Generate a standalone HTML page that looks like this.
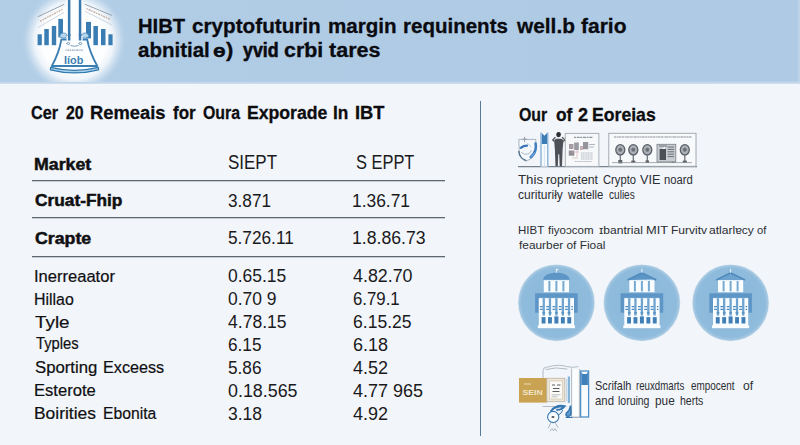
<!DOCTYPE html>
<html lang="en">
<head>
<meta charset="utf-8">
<title>HIBT crypto futures margin requirements</title>
<style>
*{box-sizing:border-box;margin:0;padding:0}
html,body{width:800px;height:445px;overflow:hidden}
body{position:relative;background:#f2f5f9;font-family:"Liberation Sans",Arial,sans-serif;color:#111}
.t{position:absolute;white-space:pre;line-height:1;transform-origin:0 50%;display:block}
#hdr{position:absolute;left:0;top:0;width:800px;height:82px;background:linear-gradient(90deg,#b2cee6 0%,#b0cce5 40%,#aecae4 100%)}
#hdrline{position:absolute;left:0;top:81px;width:800px;height:2.5px;background:linear-gradient(180deg,#b2cce5,#d3e2ef)}
.hl{position:absolute;height:2px;background:linear-gradient(180deg,#5f686f 0,#5f686f 50%,#c5ccd2 50%,#c5ccd2 100%)}
.b{-webkit-text-stroke:0.3px currentColor}
.vl{position:absolute;background:#5e86aa}
svg{position:absolute;left:0;top:0;overflow:visible}
</style>
</head>
<body>
<div id="hdr"></div>
<div id="hdrline"></div>
<div style="position:absolute;left:798px;top:0;width:2px;height:82px;background:#bdd3e7"></div>
<div class="hl" style="left:31.5px;top:180px;width:413px"></div>
<div class="hl" style="left:31.5px;top:217px;width:413px"></div>
<div class="hl" style="left:31.5px;top:256px;width:413px"></div>
<div class="vl" style="left:480px;top:100.5px;width:1.3px;height:335px;background:#577a9c"></div>

<!-- logo -->
<svg width="800" height="445" viewBox="0 0 800 445">
<defs>
<radialGradient id="glow" cx="50%" cy="50%" r="50%">
<stop offset="0" stop-color="#ffffff"/><stop offset="0.62" stop-color="#fdfeff"/><stop offset="0.76" stop-color="#f1f6fb" stop-opacity="0.95"/><stop offset="0.88" stop-color="#d8e6f3" stop-opacity="0.6"/><stop offset="1" stop-color="#b9d1e8" stop-opacity="0"/>
</radialGradient>
<clipPath id="hc"><rect x="0" y="0" width="800" height="82"/></clipPath>
</defs>
<g clip-path="url(#hc)">
<circle cx="74" cy="40.5" r="52" fill="url(#glow)"/>
<!-- roof lines -->
<g stroke="#8f99a4" stroke-width="0.9" fill="none">
<path d="M64.2 4.3 L38 16.7"/><path d="M85 4.3 L112 15.4"/>
</g>
<g stroke="#c3ccd6" stroke-width="0.8" fill="none">
<path d="M64 12.4 L38 27.5"/><path d="M85 11.2 L112 25"/>
</g>
<g stroke="#c9b3a6" stroke-width="1.5" fill="none" stroke-dasharray="1.4 0.9 2.2 0.8">
<path d="M62.5 9.3 L40 21.3"/><path d="M86.5 8.6 L110.5 19.5"/>
</g>
<!-- bars -->
<g fill="#397db3">
<rect x="37.6" y="34.3" width="4.2" height="10.9"/><rect x="44.3" y="29" width="4.5" height="16.2"/><rect x="51.8" y="26" width="4.4" height="19.2"/><rect x="58.3" y="18.9" width="4.7" height="18.5"/>
<rect x="86" y="21.9" width="5" height="16.5"/><rect x="93.4" y="26" width="4.5" height="19.2"/><rect x="101" y="29" width="4.5" height="16.2"/><rect x="108.4" y="34.3" width="4.2" height="10.9"/>
</g>
<!-- pillars -->
<rect x="66.6" y="-2" width="16" height="40" fill="#fdfeff"/>
<g fill="#3978ad">
<rect x="67.9" y="-2" width="2.5" height="40"/><rect x="78.8" y="-2" width="2.5" height="40"/>
</g>
<!-- curls beside flask top -->
<g fill="#b7d6ec" stroke="#4f90c2" stroke-width="0.8">
<path d="M59.5 36.5 q1.5 -4.5 6 -3.2 q2.8 1.4 0.6 4.4 q-3.2 1.4 -6.6 -1.2z"/>
<path d="M89 36.5 q-1.5 -4.5 -6 -3.2 q-2.8 1.4 -0.6 4.4 q3.2 1.4 6.6 -1.2z"/>
</g>
<!-- flask -->
<path d="M61.3 39.5 L87.2 39.5 Q89.5 52 97.3 66 L51.8 66 Q59.5 52 61.3 39.5 Z" fill="#fdfeff" stroke="#3b7fb2" stroke-width="1.8" stroke-linejoin="round"/>
<rect x="66.6" y="36" width="16" height="5" fill="#fdfeff"/>
<g fill="#3978ad"><rect x="67.9" y="34" width="2.5" height="6.5"/><rect x="78.8" y="34" width="2.5" height="6.5"/></g>
<path d="M50.6 67.4 Q74.5 73.3 98.4 67.4 L98.6 69.8 Q74.5 76 50.4 69.8 Z" fill="#a8d0ea" stroke="#2f78ae" stroke-width="1.2" stroke-linejoin="round"/>
<!-- scribbles -->
<g stroke="#6c93b5" stroke-width="0.9" fill="none">
<path d="M66.5 43.5 q1.8 -2.2 3.6 0 q-1.8 2.2 -3.6 0 M78.5 43.5 q1.8 -2.2 3.6 0 q-1.8 2.2 -3.6 0 M70.5 45.5 q4 1.6 8 0"/>
</g>
<path d="M65.5 50.2 h17.8" stroke="#8fa5ba" stroke-width="1.3" stroke-dasharray="1.1 0.7 2 0.6"/>
<text x="64" y="63.6" font-family="Liberation Sans, Arial, sans-serif" font-weight="bold" font-size="11" fill="#3b7fb2" textLength="19.3" lengthAdjust="spacingAndGlyphs">Iíob</text>
</g>
</svg>

<!-- top icon row -->
<svg width="800" height="445" viewBox="0 0 800 445">
<!-- baseline -->
<path d="M518 166.6 H697" stroke="#76848f" stroke-width="1.1"/>
<!-- shield / swirl icon -->
<g fill="none" stroke-linecap="round">
<path d="M519.2 139.4 h16.6 v10.5 q-0.4 8.2 -10 11.3 q-7 -2.6 -6.6 -11.3z" fill="#f5f8fb" stroke="#a3afba" stroke-width="0.9"/>
<path d="M524.6 137.2 v4.6 M522.8 139.2 h4" stroke="#8f9aa5" stroke-width="0.9"/>
<path d="M520.8 147.8 q2.6 -2.2 6.2 -2.2" stroke="#3c78b8" stroke-width="2.4"/>
<path d="M535.6 143.5 q1.6 8 -4.8 13.6" stroke="#3f7fc2" stroke-width="2.6"/>
<path d="M531 156 q2.4 -0.4 3.6 -3" stroke="#6aa0d8" stroke-width="1.6"/>
<path d="M518.8 151.5 q0.6 6.6 7 8.8" stroke="#4f6f8a" stroke-width="1.3"/>
<path d="M521.6 152.6 q2.6 2.6 6.4 1.4 q2.6 -1.2 3.4 -3.6" stroke="#9db1c4" stroke-width="0.9"/>
<path d="M527.5 143.6 q2.6 1 3.6 3.6" stroke="#c3d3e2" stroke-width="1"/>
</g>
<!-- blue pillar -->
<g>
<rect x="540.6" y="132.6" width="7.6" height="34" fill="#f7fafd"/>
<path d="M541 132.4 v34 M547.8 132.4 v34" stroke="#6fa0cc" stroke-width="1.1"/>
<path d="M541.8 133 l2.6 2.8 l2.6 -2.8 v11 h-5.2z" fill="#3d7bb4"/>
<path d="M544.4 145 v21" stroke="#d4e3f0" stroke-width="1"/>
</g>
<!-- person -->
<g fill="#4d5056">
<ellipse cx="558.6" cy="134.6" rx="2.3" ry="2.6" fill="#2b2e33"/>
<path d="M554.2 141.3 q0.2 -2.2 2.2 -2.5 h4.6 q2.2 0.3 2.4 2.5 l-0.8 8.2 l-0.6 16.7 h-2.3 l-0.5 -12 h-0.9 l-0.5 12 h-2.3 l-0.6 -16.7z"/>
<path d="M554.4 141.5 l-1.6 -1.6 l2.6 -2.6 M563.2 141.5 l1.6 -1.6 l-2.6 -2.6" stroke="#4d5056" stroke-width="1.3" fill="none"/>
</g>
<!-- board 1 -->
<rect x="565.3" y="133.4" width="33.6" height="33" fill="#f6f8fa" stroke="#a3abb3" stroke-width="0.9"/>
<path d="M574 137.3 h19" stroke="#8e969e" stroke-width="1.2" stroke-dasharray="2 0.7 3 0.6"/>
<g fill="#8b7f86" opacity="0.75">
<rect x="569" y="144" width="4.5" height="5" /><rect x="574.2" y="142.5" width="4.6" height="7.5" fill="#7a7a84"/><rect x="583" y="142" width="5.2" height="7.2" fill="#75737b"/>
<rect x="568.8" y="150.5" width="5.5" height="5.2" fill="#6f6a72"/><rect x="580" y="146" width="3" height="4" fill="#b69aa0"/>
</g>
<g stroke="#9aa0aa" stroke-width="0.9" opacity="0.8">
<path d="M581 153 h12 M581 155 h12 M581 157 h12 M581 159 h12 M575 161.5 h17" stroke-dasharray="1.2 0.5"/>
<path d="M589 144.5 h6 M589 147 h5" />
</g>
<g stroke="#d8a9b0" stroke-width="0.8" opacity="0.8"><path d="M571 152 h8 M577 150 v7 M572 158 h6"/></g>
<!-- board 2 -->
<rect x="608.8" y="133.3" width="87.2" height="33" fill="#f7f9fb" stroke="#9aa2aa" stroke-width="0.9"/>
<path d="M614 137 h78" stroke="#8b9299" stroke-width="1.1" stroke-dasharray="2.2 0.5 1.2 0.4 3 0.5"/>
<g fill="#adb1b7" stroke="#5a6067" stroke-width="1.3">
<ellipse cx="620.3" cy="149.8" rx="4.5" ry="5.2"/><ellipse cx="633.3" cy="149.8" rx="4.5" ry="5.2"/><ellipse cx="647.3" cy="149.8" rx="4.5" ry="5.2"/><ellipse cx="684.8" cy="149.8" rx="4.5" ry="5.2"/>
</g>
<g fill="#6c7178">
<circle cx="620.3" cy="149.8" r="2"/><circle cx="633.3" cy="149.8" r="2"/><circle cx="647.3" cy="149.8" r="2"/><circle cx="684.8" cy="149.8" r="2"/>
</g>
<g stroke="#6f757c" stroke-width="1.3">
<path d="M620.3 155 v7 M633.3 155 v7 M647.3 155 v7 M684.8 155 v7"/>
</g>
<g fill="#5d6269"><rect x="618.3" y="160" width="4" height="3.4"/><rect x="631.3" y="160.6" width="4" height="2.2"/><rect x="645.6" y="160.4" width="3.4" height="2.6"/><rect x="682.8" y="160.6" width="4" height="2.4"/><rect x="671.5" y="160" width="3" height="3"/></g>
<path d="M612 162.6 h80" stroke="#8e959c" stroke-width="0.8"/>
<rect x="657" y="144.3" width="18.8" height="17.6" fill="#c9cdd2" stroke="#7a8087" stroke-width="0.8"/>
<rect x="659.6" y="149" width="6.4" height="11" fill="#4b5057"/>
<path d="M662 149 l3 -3 v3z" fill="#eef1f4"/>
<g stroke="#6a7077" stroke-width="1"><path d="M667.6 147 h6.5 M667.6 149.4 h6.5 M667.6 151.8 h6.5 M667.6 154.2 h6.5 M667.6 156.6 h6.5 M659 146 h8"/></g>
</svg>

<!-- three circles -->
<svg width="800" height="445" viewBox="0 0 800 445">
<defs>
<radialGradient id="cg" cx="50%" cy="50%" r="50%"><stop offset="0" stop-color="#8ab6d9"/><stop offset="0.9" stop-color="#8fbbdc"/><stop offset="0.97" stop-color="#a5c8e2"/><stop offset="1" stop-color="#c6dcec"/></radialGradient>
</defs>
<circle cx="556.4" cy="302.8" r="38.4" fill="url(#cg)"/>
<circle cx="641.9" cy="302.8" r="38.4" fill="url(#cg)"/>
<circle cx="730.6" cy="302.8" r="38.4" fill="url(#cg)"/>
<!-- building 1 with dome -->
<g transform="translate(556.4,302.8)">
<path d="M-13.4 -23 q0.6 -6.3 13.4 -7.2 q12.8 0.9 13.4 7.2z" fill="#5d96c6"/>
<path d="M0 -30 v-3.8 l2.2 0.8" stroke="#f4f9fd" stroke-width="0.9" fill="none"/>
<g>
<!-- coordinates relative to circle centre -->
<rect x="-12.6" y="-22.6" width="25.2" height="12" fill="#fafdff"/>
<g fill="#77aad3"><rect x="-8" y="-21.8" width="2" height="10.4"/><rect x="-1" y="-21.8" width="2" height="10.4"/><rect x="6" y="-21.8" width="2" height="10.4"/></g>
<path d="M-21.3 -9.6 h42.6 v19.6 h-3.7 v-15 h-35.2 v15 h-3.7z" fill="#5d96c6"/>
<rect x="-17.6" y="-4.6" width="35.2" height="29.8" fill="#fafdff"/>
<g fill="#6ea2cf">
<rect x="-13.8" y="-4.6" width="2.3" height="17.4"/><rect x="-7.6" y="-4.6" width="2.3" height="17.4"/><rect x="-1.15" y="-4.6" width="2.3" height="17.4"/><rect x="5.3" y="-4.6" width="2.3" height="17.4"/><rect x="11.5" y="-4.6" width="2.3" height="17.4"/>
</g>
<g stroke="#4f8abd" stroke-width="1.3" stroke-dasharray="2.8 3.5"><path d="M-16.5 3.8 h33 M-16.5 6.6 h33 M-14 10 h30"/></g>
<g stroke="#ffffff" stroke-width="1.1" stroke-dasharray="1.6 4.7" opacity="0.9"><path d="M-15.5 0 h32"/></g>
<g fill="#3f7fb6">
<rect x="-14.8" y="14.3" width="3.9" height="6.4"/><rect x="-8.4" y="14.3" width="3.9" height="6.4"/><rect x="-2" y="13.6" width="4" height="7.1"/><rect x="4.5" y="14.3" width="3.9" height="6.4"/><rect x="10.9" y="14.3" width="3.9" height="6.4"/>
</g>
<rect x="-18.6" y="22.6" width="37.2" height="2.8" fill="#fafdff"/>
</g>
</g>
<g transform="translate(641.9,302.8)">
<path d="M-14 -22.6 L0 -29.6 L14 -22.6 v-1.6z" fill="#5d96c6"/>
<path d="M-14.4 -22.8 L0 -30 L14.4 -22.8" stroke="#4f8abd" stroke-width="1.5" fill="none"/>
<path d="M0 -30 v-4" stroke="#f4f9fd" stroke-width="0.9"/>
<g>
<!-- coordinates relative to circle centre -->
<rect x="-12.6" y="-22.6" width="25.2" height="12" fill="#fafdff"/>
<g fill="#77aad3"><rect x="-8" y="-21.8" width="2" height="10.4"/><rect x="-1" y="-21.8" width="2" height="10.4"/><rect x="6" y="-21.8" width="2" height="10.4"/></g>
<path d="M-21.3 -9.6 h42.6 v19.6 h-3.7 v-15 h-35.2 v15 h-3.7z" fill="#5d96c6"/>
<rect x="-17.6" y="-4.6" width="35.2" height="29.8" fill="#fafdff"/>
<g fill="#6ea2cf">
<rect x="-13.8" y="-4.6" width="2.3" height="17.4"/><rect x="-7.6" y="-4.6" width="2.3" height="17.4"/><rect x="-1.15" y="-4.6" width="2.3" height="17.4"/><rect x="5.3" y="-4.6" width="2.3" height="17.4"/><rect x="11.5" y="-4.6" width="2.3" height="17.4"/>
</g>
<g stroke="#4f8abd" stroke-width="1.3" stroke-dasharray="2.8 3.5"><path d="M-16.5 3.8 h33 M-16.5 6.6 h33 M-14 10 h30"/></g>
<g stroke="#ffffff" stroke-width="1.1" stroke-dasharray="1.6 4.7" opacity="0.9"><path d="M-15.5 0 h32"/></g>
<g fill="#3f7fb6">
<rect x="-14.8" y="14.3" width="3.9" height="6.4"/><rect x="-8.4" y="14.3" width="3.9" height="6.4"/><rect x="-2" y="13.6" width="4" height="7.1"/><rect x="4.5" y="14.3" width="3.9" height="6.4"/><rect x="10.9" y="14.3" width="3.9" height="6.4"/>
</g>
<rect x="-18.6" y="22.6" width="37.2" height="2.8" fill="#fafdff"/>
</g>
</g>
<g transform="translate(730.6,302.8)">
<path d="M-14.4 -22.8 L0 -30 L14.4 -22.8" stroke="#4f8abd" stroke-width="1.5" fill="#6ea2cf"/>
<path d="M0 -30 v-4" stroke="#f4f9fd" stroke-width="0.9"/>
<g>
<!-- coordinates relative to circle centre -->
<rect x="-12.6" y="-22.6" width="25.2" height="12" fill="#fafdff"/>
<g fill="#77aad3"><rect x="-8" y="-21.8" width="2" height="10.4"/><rect x="-1" y="-21.8" width="2" height="10.4"/><rect x="6" y="-21.8" width="2" height="10.4"/></g>
<path d="M-21.3 -9.6 h42.6 v19.6 h-3.7 v-15 h-35.2 v15 h-3.7z" fill="#5d96c6"/>
<rect x="-17.6" y="-4.6" width="35.2" height="29.8" fill="#fafdff"/>
<g fill="#6ea2cf">
<rect x="-13.8" y="-4.6" width="2.3" height="17.4"/><rect x="-7.6" y="-4.6" width="2.3" height="17.4"/><rect x="-1.15" y="-4.6" width="2.3" height="17.4"/><rect x="5.3" y="-4.6" width="2.3" height="17.4"/><rect x="11.5" y="-4.6" width="2.3" height="17.4"/>
</g>
<g stroke="#4f8abd" stroke-width="1.3" stroke-dasharray="2.8 3.5"><path d="M-16.5 3.8 h33 M-16.5 6.6 h33 M-14 10 h30"/></g>
<g stroke="#ffffff" stroke-width="1.1" stroke-dasharray="1.6 4.7" opacity="0.9"><path d="M-15.5 0 h32"/></g>
<g fill="#3f7fb6">
<rect x="-14.8" y="14.3" width="3.9" height="6.4"/><rect x="-8.4" y="14.3" width="3.9" height="6.4"/><rect x="-2" y="13.6" width="4" height="7.1"/><rect x="4.5" y="14.3" width="3.9" height="6.4"/><rect x="10.9" y="14.3" width="3.9" height="6.4"/>
</g>
<rect x="-18.6" y="22.6" width="37.2" height="2.8" fill="#fafdff"/>
</g>
</g>
</svg>

<!-- bottom icon -->
<svg width="800" height="445" viewBox="0 0 800 445">
<!-- sketch outline -->
<g fill="none" stroke="#aab4be" stroke-width="0.9" stroke-linecap="round">
<path d="M543 378 v-7.5 q0 -3 3.5 -3.2 q12 -3.6 20 -0.8 q6 1.6 11.5 0.2"/>
<path d="M546 369.5 q10 -3 21 -0.5"/>
<path d="M543 406.5 h23"/>
<path d="M571.6 369 v48 h7.8 v-47.5" fill="#fbfdff"/>
<path d="M571 417.5 h9"/>
</g>
<!-- gold card -->
<rect x="519" y="378" width="28" height="24.6" fill="#c9a352"/>
<path d="M524 384 h7" stroke="#efe2c2" stroke-width="0.9"/>
<text x="522.6" y="394.5" font-family="Liberation Sans, Arial, sans-serif" font-weight="bold" font-size="7" fill="#efe4c8" textLength="20" lengthAdjust="spacingAndGlyphs">SEIN</text>
<!-- document -->
<rect x="546.8" y="378.3" width="18" height="23.4" fill="#efe6d4" stroke="#b9b2a6" stroke-width="0.8"/>
<rect x="549.3" y="381" width="13" height="18" fill="#fbfaf6" stroke="#c8c0b2" stroke-width="0.6"/>
<g stroke="#5a5d63" stroke-width="1"><path d="M552 385 h3 M557 385 h3.5 M553 388.5 h6.5 M552.5 391.5 h7"/></g>
<path d="M551.5 394.8 h9 M551.5 396.8 h6" stroke="#a0a4aa" stroke-width="0.7"/>
<!-- blue verticals -->
<path d="M568.9 376.5 v26.5" stroke="#86b3d8" stroke-width="2.2"/>
<path d="M566.6 379 v22" stroke="#a9c9e3" stroke-width="0.8"/>
<!-- tall thermometer bar -->
<rect x="580.6" y="371" width="8" height="46" fill="#f9fcfe" stroke="#4f8fc6" stroke-width="1.3"/>
<path d="M581.3 371.5 l1.3 2.5 h4 l1.3 -2.5 v13.5 h-6.6z" fill="#3f80bb"/>
<!-- blue swirls -->
<g fill="none" stroke="#3576b0" stroke-linecap="round">
<path d="M551 411 q5 -6.5 13.5 -4.8 q-2.5 3.8 -7.5 3.6" stroke-width="2"/>
<path d="M553 409 q6 -3 10 -1.5" stroke-width="1.2"/>
<path d="M570.6 405.5 q-0.8 5 -4.2 7.6 q-1.4 3 1.8 3.4 q3.2 -0.6 2.8 -4.6z" stroke-width="1.5" fill="#5f9bd0"/>
<circle cx="553.2" cy="417" r="5.6" stroke-width="1.1" fill="#fbfdff"/>
<path d="M558.6 415 q3 -1.5 4 -4.5" stroke-width="1"/>
<path d="M566 417.5 h6" stroke-width="1"/>
</g>
<ellipse cx="553" cy="417" rx="1.6" ry="1.1" fill="#51565c"/>
<g fill="none" stroke="#9aa5b0" stroke-width="0.8" stroke-linecap="round"><path d="M551 422.5 l-2.6 5.5 M555 422.5 l3 5 M550 431 l2 -2.5 l1.5 2.2 l1.5 -2.2 l1.6 2.5"/></g>
</svg>

<!-- text -->
<span class="t b" style="left:137.99px;top:15.70px;font-size:20px;font-weight:bold;color:#0a0b10;transform:scaleX(1.0122);">HIBT</span>
<span class="t b" style="left:192.00px;top:15.70px;font-size:20px;font-weight:bold;color:#0a0b10;transform:scaleX(1.0348);">cryptofuturin</span>
<span class="t b" style="left:327.50px;top:16.45px;font-size:20.5px;font-weight:bold;color:#0a0b10;transform:scaleX(1.0041);">margin</span>
<span class="t b" style="left:403.00px;top:16.45px;font-size:20.5px;font-weight:bold;color:#0a0b10;transform:scaleX(1.0011);">requinents</span>
<span class="t b" style="left:517.02px;top:16.45px;font-size:20.5px;font-weight:bold;color:#0a0b10;transform:scaleX(1.0168);">well.b</span>
<span class="t b" style="left:580.60px;top:16.45px;font-size:20.5px;font-weight:bold;color:#0a0b10;transform:scaleX(1.0250);">fario</span>
<span class="t b" style="left:137.75px;top:40.20px;font-size:20px;font-weight:bold;color:#0a0b10;transform:scaleX(1.0259);">abnitial</span>
<span class="t b" style="left:212.60px;top:42.20px;font-size:18px;font-weight:bold;color:#0a0b10;transform:scaleX(1.1545);">ө</span>
<span class="t b" style="left:226.00px;top:40.20px;font-size:20px;font-weight:bold;color:#0a0b10;transform:scaleX(1.1000);">)</span>
<span class="t b" style="left:243.00px;top:40.20px;font-size:20px;font-weight:bold;color:#0a0b10;transform:scaleX(0.8891);-webkit-text-stroke:0.6px currentColor;">yvid</span>
<span class="t b" style="left:284.00px;top:40.20px;font-size:20px;font-weight:bold;color:#0a0b10;transform:scaleX(1.0686);">crƅi</span>
<span class="t b" style="left:329.30px;top:40.20px;font-size:20px;font-weight:bold;color:#0a0b10;transform:scaleX(1.0778);">tares</span>
<span class="t b" style="left:30.50px;top:104.35px;font-size:18.3px;font-weight:bold;color:#0d0d10;transform:scaleX(0.8891);">Cer</span>
<span class="t b" style="left:66.25px;top:104.35px;font-size:18.3px;font-weight:bold;color:#0d0d10;transform:scaleX(0.8677);">20</span>
<span class="t b" style="left:89.75px;top:104.35px;font-size:18.3px;font-weight:bold;color:#0d0d10;transform:scaleX(1.0029);">Remeais</span>
<span class="t b" style="left:172.50px;top:104.35px;font-size:18.3px;font-weight:bold;color:#0d0d10;transform:scaleX(0.9277);">for</span>
<span class="t b" style="left:203.00px;top:104.35px;font-size:18.3px;font-weight:bold;color:#0d0d10;transform:scaleX(0.8678);">Oura</span>
<span class="t b" style="left:246.54px;top:104.35px;font-size:18.3px;font-weight:bold;color:#0d0d10;transform:scaleX(0.9648);">Exporade</span>
<span class="t b" style="left:332.80px;top:104.35px;font-size:18.3px;font-weight:bold;color:#0d0d10;transform:scaleX(0.9450);">In</span>
<span class="t b" style="left:355.25px;top:104.35px;font-size:18.3px;font-weight:bold;color:#0d0d10;transform:scaleX(0.9989);">IBT</span>
<span class="t b" style="left:518.75px;top:104.60px;font-size:19px;font-weight:bold;color:#0d0d10;transform:scaleX(0.8361);">Our</span>
<span class="t b" style="left:555.50px;top:104.60px;font-size:19px;font-weight:bold;color:#0d0d10;transform:scaleX(0.9137);">of</span>
<span class="t b" style="left:578.00px;top:104.60px;font-size:19px;font-weight:bold;color:#0d0d10;transform:scaleX(0.9500);">2</span>
<span class="t b" style="left:592.32px;top:104.60px;font-size:19px;font-weight:bold;color:#0d0d10;transform:scaleX(0.9279);">Eoreias</span>
<span class="t b" style="left:33.74px;top:156.50px;font-size:16.8px;font-weight:bold;color:#101012;transform:scaleX(1.0578);-webkit-text-stroke:0.5px currentColor;">Market</span>
<span class="t b" style="left:34.80px;top:193.30px;font-size:16.8px;font-weight:bold;color:#101012;transform:scaleX(1.0299);-webkit-text-stroke:0.5px currentColor;">Cruat-Fhip</span>
<span class="t b" style="left:34.80px;top:230.70px;font-size:16.8px;font-weight:bold;color:#101012;transform:scaleX(1.0564);-webkit-text-stroke:0.5px currentColor;">Crapte</span>
<span class="t" style="left:228.10px;top:152.95px;font-size:19.5px;color:#1a1a1c;transform:scaleX(0.8700);">SIEPT</span>
<span class="t" style="left:356.25px;top:152.95px;font-size:19.5px;color:#1a1a1c;transform:scaleX(0.8417);">S EPPT</span>
<span class="t" style="left:228.00px;top:191.60px;font-size:18px;color:#1a1a1c;transform:scaleX(0.9549);">3.871</span>
<span class="t" style="left:352.03px;top:191.60px;font-size:18px;color:#1a1a1c;transform:scaleX(0.9654);">1.36.71</span>
<span class="t" style="left:228.00px;top:228.75px;font-size:18px;color:#1a1a1c;transform:scaleX(0.9568);">5.726.11</span>
<span class="t" style="left:352.02px;top:228.75px;font-size:18px;color:#1a1a1c;transform:scaleX(0.9803);">1.8.86.73</span>
<span class="t" style="left:33.98px;top:267.90px;font-size:16.3px;color:#0f0f11;transform:scaleX(1.0162);-webkit-text-stroke:0.2px currentColor;">Inerreaator</span>
<span class="t" style="left:34.02px;top:290.90px;font-size:16.3px;color:#0f0f11;transform:scaleX(0.9770);-webkit-text-stroke:0.2px currentColor;">Hillao</span>
<span class="t" style="left:35.00px;top:313.65px;font-size:16.3px;color:#0f0f11;transform:scaleX(1.1576);-webkit-text-stroke:0.2px currentColor;">Tyle</span>
<span class="t" style="left:35.50px;top:335.40px;font-size:16.3px;color:#0f0f11;transform:scaleX(0.9059);-webkit-text-stroke:0.2px currentColor;">Typles</span>
<span class="t" style="left:35.00px;top:359.15px;font-size:16.3px;color:#0f0f11;transform:scaleX(1.0279);-webkit-text-stroke:0.2px currentColor;">Sporting</span>
<span class="t" style="left:102.76px;top:359.15px;font-size:16.3px;color:#0f0f11;transform:scaleX(0.9935);-webkit-text-stroke:0.2px currentColor;">Exceess</span>
<span class="t" style="left:34.48px;top:382.40px;font-size:16.3px;color:#0f0f11;transform:scaleX(1.0197);-webkit-text-stroke:0.2px currentColor;">Esterote</span>
<span class="t" style="left:34.43px;top:405.40px;font-size:16.3px;color:#0f0f11;transform:scaleX(1.0702);-webkit-text-stroke:0.2px currentColor;">Boirities</span>
<span class="t" style="left:102.78px;top:405.40px;font-size:16.3px;color:#0f0f11;transform:scaleX(0.9653);-webkit-text-stroke:0.2px currentColor;">Ebonita</span>
<span class="t" style="left:228.20px;top:266.50px;font-size:18px;color:#1a1a1c;transform:scaleX(0.9709);">0.65.15</span>
<span class="t" style="left:228.00px;top:290.00px;font-size:18px;color:#1a1a1c;transform:scaleX(0.9693);">0.70 9</span>
<span class="t" style="left:228.00px;top:312.50px;font-size:18px;color:#1a1a1c;transform:scaleX(0.9743);">4.78.15</span>
<span class="t" style="left:228.00px;top:335.60px;font-size:18px;color:#1a1a1c;transform:scaleX(0.9565);">6.15</span>
<span class="t" style="left:228.00px;top:359.00px;font-size:18px;color:#1a1a1c;transform:scaleX(0.9565);">5.86</span>
<span class="t" style="left:228.00px;top:381.50px;font-size:18px;color:#1a1a1c;transform:scaleX(0.9921);">0.18.565</span>
<span class="t" style="left:228.00px;top:405.00px;font-size:18px;color:#1a1a1c;transform:scaleX(0.9708);">3.18</span>
<span class="t" style="left:353.00px;top:266.50px;font-size:18px;color:#1a1a1c;transform:scaleX(0.9909);">4.82.70</span>
<span class="t" style="left:353.00px;top:290.00px;font-size:18px;color:#1a1a1c;transform:scaleX(0.9334);">6.79.1</span>
<span class="t" style="left:353.00px;top:312.50px;font-size:18px;color:#1a1a1c;transform:scaleX(0.9743);">6.15.25</span>
<span class="t" style="left:353.00px;top:335.60px;font-size:18px;color:#1a1a1c;transform:scaleX(0.9994);">6.18</span>
<span class="t" style="left:353.00px;top:359.00px;font-size:18px;color:#1a1a1c;transform:scaleX(0.9994);">4.52</span>
<span class="t" style="left:353.00px;top:381.50px;font-size:18px;color:#1a1a1c;transform:scaleX(0.9992);">4.77 965</span>
<span class="t" style="left:353.00px;top:405.00px;font-size:18px;color:#1a1a1c;transform:scaleX(0.9994);">4.92</span>
<span class="t" style="left:518.20px;top:174.25px;font-size:12.5px;color:#2b2e33;transform:scaleX(1.0614);">This</span>
<span class="t" style="left:546.20px;top:174.25px;font-size:12.5px;color:#2b2e33;transform:scaleX(0.9853);">roprietent</span>
<span class="t" style="left:603.20px;top:174.25px;font-size:12.5px;color:#2b2e33;transform:scaleX(0.8965);">Crypto</span>
<span class="t" style="left:639.95px;top:174.25px;font-size:12.5px;color:#2b2e33;transform:scaleX(1.0121);">VIE</span>
<span class="t" style="left:663.70px;top:174.25px;font-size:12.5px;color:#2b2e33;transform:scaleX(0.8995);">noard</span>
<span class="t" style="left:518.20px;top:188.50px;font-size:12.5px;color:#2b2e33;transform:scaleX(0.9633);">curituriły</span>
<span class="t" style="left:568.36px;top:188.50px;font-size:12.5px;color:#2b2e33;transform:scaleX(0.9085);">watelle</span>
<span class="t" style="left:608.70px;top:188.50px;font-size:12.5px;color:#2b2e33;transform:scaleX(0.8058);">culies</span>
<span class="t" style="left:517.55px;top:225.00px;font-size:11.8px;color:#2b2e33;transform:scaleX(0.9732);">HIBT</span>
<span class="t" style="left:548.30px;top:225.00px;font-size:11.8px;color:#2b2e33;transform:scaleX(0.9783);">fiyoɔcom</span>
<span class="t" style="left:599.10px;top:225.00px;font-size:11.8px;color:#2b2e33;transform:scaleX(1.0220);">ɪbantrial</span>
<span class="t" style="left:646.30px;top:225.00px;font-size:11.8px;color:#2b2e33;transform:scaleX(1.0893);">MIT</span>
<span class="t" style="left:670.80px;top:225.00px;font-size:11.8px;color:#2b2e33;transform:scaleX(1.0199);">Furvitv</span>
<span class="t" style="left:709.00px;top:225.00px;font-size:11.8px;color:#2b2e33;transform:scaleX(1.0221);">atlarlɐcy</span>
<span class="t" style="left:757.30px;top:225.00px;font-size:11.8px;color:#2b2e33;transform:scaleX(0.9469);">of</span>
<span class="t" style="left:518.75px;top:239.80px;font-size:11.8px;color:#2b2e33;transform:scaleX(1.0055);">feaurber of Fioal</span>
<span class="t" style="left:595.00px;top:379.00px;font-size:13px;color:#2b2e33;transform:scaleX(0.8407);">Scɾifalh</span>
<span class="t" style="left:636.25px;top:379.00px;font-size:13px;color:#2b2e33;transform:scaleX(0.7441);">reuxdmarts</span>
<span class="t" style="left:691.25px;top:379.00px;font-size:13px;color:#2b2e33;transform:scaleX(0.7611);">empocent</span>
<span class="t" style="left:742.50px;top:379.00px;font-size:13px;color:#2b2e33;transform:scaleX(0.9350);">of</span>
<span class="t" style="left:595.00px;top:394.00px;font-size:13px;color:#2b2e33;transform:scaleX(0.8737);">and</span>
<span class="t" style="left:618.00px;top:394.00px;font-size:13px;color:#2b2e33;transform:scaleX(0.8055);">loruing</span>
<span class="t" style="left:655.00px;top:394.00px;font-size:13px;color:#2b2e33;transform:scaleX(0.9087);">pue</span>
<span class="t" style="left:680.00px;top:394.00px;font-size:13px;color:#2b2e33;transform:scaleX(0.8078);">herts</span>
</body>
</html>
